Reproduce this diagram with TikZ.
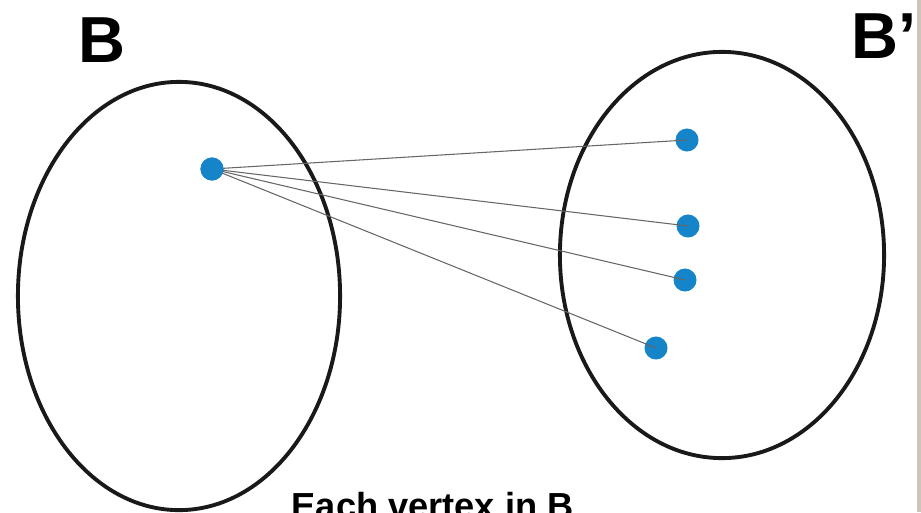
\documentclass[tikz,border=0pt]{standalone}
\usepackage{fontspec}
\setmainfont{Liberation Sans}
\usepackage{xcolor}
\usetikzlibrary{positioning}
\definecolor{dotblue}{RGB}{22,132,200}
\definecolor{edgebar}{RGB}{204,198,184}
\tikzstyle{vx}=[circle, fill=dotblue, inner sep=0, minimum size=0.23cm]
\tikzstyle{set}=[draw=black!90, line width=1.1pt]
\tikzstyle{ln}=[draw=black!60, line width=0.3pt]
\tikzstyle{big}=[font=\fontsize{18.5}{20}\selectfont\bfseries, inner sep=0]
\tikzstyle{note}=[font=\fontsize{10.3}{12}\selectfont\bfseries, inner sep=0]

\begin{document}
\begin{tikzpicture}[x=0.01cm, y=-0.01cm]
        \useasboundingbox (0,0) rectangle (921,512);
        \clip (0,0) rectangle (921,512);
        \fill[edgebar] (917,0) rectangle (921,512);
        % the two sets
        \draw[set] (179,296) ellipse [x radius=1.61cm, y radius=2.14cm];
        \draw[set] (722,255) ellipse [x radius=1.62cm, y radius=2.03cm];
        \node[big, anchor=base west] (lb) at (78,62) {B};
        \node[big, anchor=base west] (lbp) at (851,58) {B’};
        \node[note, anchor=base west] (txt) at (291,518) {Each vertex in B};
        % vertices
        \node[vx] (s) at (212,169) {};
        \node[vx] (t1) at (687,140) {};
        \node[vx] (t2) at (688,226) {};
        \node[vx] (t3) at (685,280) {};
        \node[vx] (t4) at (656,348) {};
        \foreach \t in {t1,t2,t3,t4}
            \draw[ln] (s.center) -- (\t.center);
        \node[vx] at (s) {};
    \end{tikzpicture}
\end{document}
